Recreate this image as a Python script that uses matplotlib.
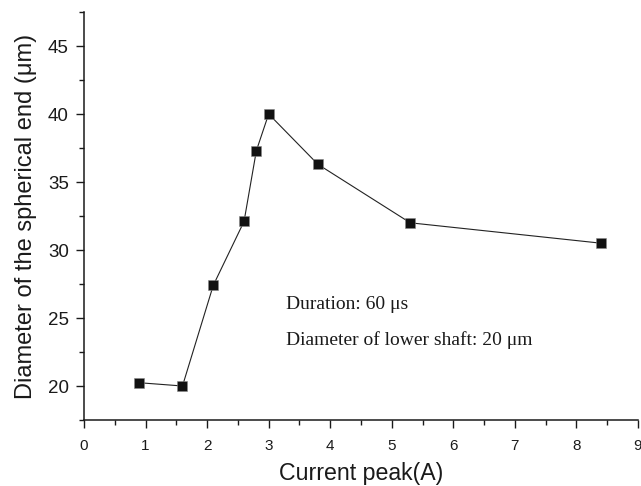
import matplotlib
matplotlib.use("Agg")
import matplotlib.pyplot as plt
from matplotlib.ticker import MultipleLocator

current_peak = [0.9, 1.6, 2.1, 2.6, 2.8, 3.0, 3.8, 5.3, 8.4]
diameter = [20.24, 20.0, 27.4, 32.1, 37.3, 40.0, 36.3, 32.0, 30.5]
x_ticks = [0, 1, 2, 3, 4, 5, 6, 7, 8, 9]
y_ticks = [20, 25, 30, 35, 40, 45]
annotations = ["Duration: 60 μs", "Diameter of lower shaft: 20 μm"]

W, H = 641, 486
fig = plt.figure(figsize=(W / 100, H / 100), dpi=100)
ax = fig.add_axes([84 / W, 66 / H, 554 / W, 408 / H])

ink = "#1a1a1a"
ax.plot(current_peak, diameter, color="#222222", lw=0.8, marker="s",
        markersize=6.5, markerfacecolor="#111111", markeredgecolor="#888888",
        markeredgewidth=0.4)

ax.set_xlim(0, 9)
ax.set_ylim(17.5, 47.5)
ax.set_xticks(x_ticks)
ax.set_yticks(y_ticks)
ax.xaxis.set_minor_locator(MultipleLocator(0.5))
ax.yaxis.set_minor_locator(MultipleLocator(2.5))

for s in ["top", "right"]:
    ax.spines[s].set_visible(False)
for s in ["left", "bottom"]:
    ax.spines[s].set_linewidth(1.1)
    ax.spines[s].set_color(ink)

ax.tick_params(axis="both", which="major", length=6, width=1.0, color=ink, direction="out")
ax.tick_params(axis="both", which="minor", length=3.5, width=1.0, color=ink, direction="out")
ax.tick_params(axis="x", labelsize=11, pad=8, labelcolor=ink)
ax.tick_params(axis="y", labelsize=13.5, pad=5, labelcolor=ink)
for lab in ax.get_xticklabels() + ax.get_yticklabels():
    lab.set_family("Liberation Sans")

ax.set_xlabel("Current peak(A)", fontsize=16.7, family="Liberation Sans", color=ink, labelpad=6)
ax.set_ylabel("Diameter of the spherical end (μm)", fontsize=17, family="Liberation Sans",
              color=ink, labelpad=8)

ax.text(3.28, 26.0, annotations[0], fontsize=14, family="Liberation Serif",
        color=ink, va="center", ha="left")
ax.text(3.28, 23.4, annotations[1], fontsize=14, family="Liberation Serif",
        color=ink, va="center", ha="left")

fig.savefig("out.png", dpi=100)
